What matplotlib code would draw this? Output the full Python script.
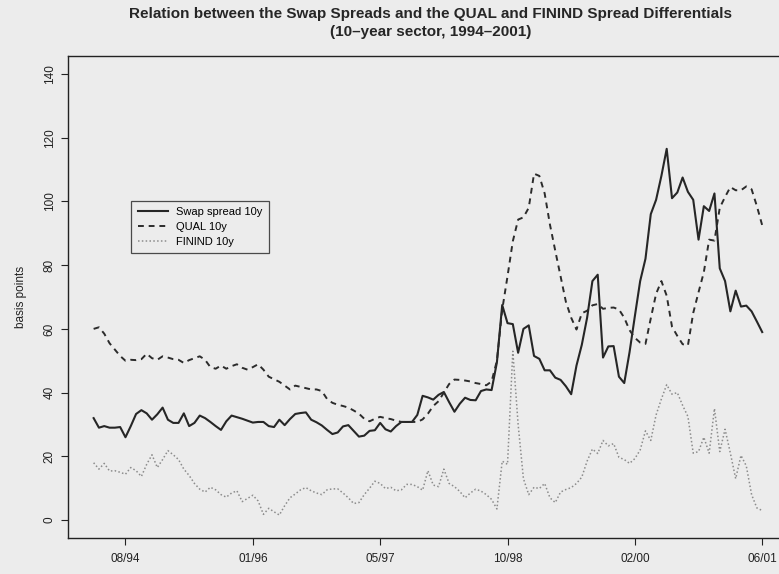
import numpy as np
import matplotlib
matplotlib.use("Agg")
import matplotlib.pyplot as plt

plt.rcParams['font.family'] = ['Liberation Sans', 'DejaVu Sans']

# observations are roughly three weeks apart, Apr 1994 .. Jun 2001
tick_labels = ["08/94", "01/96", "05/97", "10/98", "02/00", "06/01"]
tick_obs = [6, 30, 54, 78, 102, 126]

swap_10y = [
    32, 29, 29.5, 29, 29, 29.2, 26, 29.5, 33.3, 34.5,
    33.5, 31.5, 33.2, 35.3, 31.5, 30.5, 30.5, 33.5, 29.5, 30.5,
    32.8, 32, 30.8, 29.5, 28.3, 31, 32.8, 32.3, 31.8, 31.2,
    30.6, 30.8, 30.8, 29.5, 29.2, 31.5, 29.8, 31.7, 33.3, 33.6,
    33.8, 31.5, 30.7, 29.7, 28.3, 27, 27.5, 29.4, 29.8, 28,
    26.2, 26.5, 28, 28.2, 30.5, 28.5, 27.8, 29.5, 30.8, 30.8,
    30.8, 33, 39, 38.5, 37.8, 39.3, 40.2, 37, 34, 36.5,
    38.4, 37.7, 37.6, 40.5, 41, 40.8, 49.5, 67.5, 61.8, 61.5,
    52.5, 60, 61.1, 51.5, 50.6, 47, 47, 44.7, 44, 42,
    39.5, 48.5, 55, 63.5, 75, 77, 51, 54.5, 54.6, 45,
    43, 52.7, 64, 75, 82, 96, 100.5, 108, 116.5, 101,
    102.8, 107.5, 103, 100.5, 88, 98.5, 97, 102.5, 79, 75,
    65.5, 72, 67, 67.3, 65.5, 62.3, 59,
]

qual_10y = [
    60, 60.5, 58.5, 55.5, 53.5, 51.5, 50, 50.3, 50.2, 50.5,
    52.2, 50.8, 50.3, 51.4, 51, 50.5, 50.3, 49.3, 50.2, 50.8,
    51.4, 50.3, 48, 47.5, 48.5, 47.5, 48.3, 48.9, 47.8, 47.2,
    48, 48.9, 47.2, 45, 44.2, 43.4, 42.2, 41, 42.2, 41.8,
    41.4, 41, 41, 40.5, 38, 36.8, 36.2, 35.8, 35.3, 34.4,
    33.4, 31.8, 31, 31.8, 32.4, 32, 31.7, 31.2, 30.8, 30.8,
    30.8, 30.8, 31.6, 33.4, 35.8, 37.3, 40, 42.7, 44.1, 44,
    43.8, 43.5, 43, 42.7, 42.3, 43.5, 50, 66, 76.5, 87.5,
    94.3, 95, 98, 108.7, 108, 102.5, 92.7, 84.5, 76.5, 68.5,
    63.5, 59.8, 64.9, 65.7, 67.4, 67.8, 66.3, 66.6, 66.7, 66.1,
    63.5, 59.6, 57.2, 55.7, 55.3, 63.3, 71, 75, 70.4, 60.7,
    57.8, 55.2, 54.8, 65, 71.5, 77.8, 88, 87.7, 98, 101.4,
    104.5, 103.5, 103.5, 104.7, 103.8, 98.5, 92.5,
]

finind_10y = [
    18, 16, 17.8, 15.4, 15.5, 15, 14.4, 16.5, 15.5, 13.7,
    17.5, 20.5, 16.5, 19, 21.8, 20.5, 19, 16, 14, 11.5,
    9.7, 8.8, 10.3, 9.5, 8, 7.2, 8.5, 9.2, 5.8, 6.8,
    7.8, 6, 1.8, 3.7, 2.6, 1.6, 4.5, 7, 8.2, 9.5,
    10.2, 9.2, 8.5, 8, 9.5, 9.8, 9.8, 8.5, 7, 5.2,
    5.5, 8, 10, 12.2, 11.5, 9.9, 10.3, 9.2, 9.5, 11.2,
    11.2, 10.5, 9.4, 15.5, 11, 10.5, 16, 11.5, 10.5, 9,
    7, 8.5, 9.7, 9.1, 8, 6.5, 3.5, 18.5, 17.5, 53,
    30, 13, 8, 10.3, 9.9, 11.5, 7, 5.5, 8.8, 9.6,
    10.2, 11.5, 13.5, 18.5, 22.3, 20.9, 25, 23.3, 24, 19.7,
    19, 17.8, 19.3, 22, 28, 25, 33, 38, 42.5, 39.5,
    40, 36, 32.5, 21, 21.5, 26, 21, 35, 21.5, 28.5,
    21, 13, 20.3, 17, 8, 3.8, 3,
]

obs = np.arange(len(swap_10y))
bg = "#ececec"

fig = plt.figure(figsize=(7.79, 5.74), dpi=100, facecolor=bg)
ax = fig.add_axes([0.0875, 0.0628, 0.925, 0.8395], facecolor=bg)

ax.plot(obs, swap_10y, color="#262626", lw=1.5, label="Swap spread 10y")
ax.plot(obs, qual_10y, color="#2b2b2b", lw=1.4, linestyle=(0, (3, 2.5)),
        label="QUAL 10y")
ax.plot(obs, finind_10y, color="#8c8c8c", lw=1.1, linestyle=(0, (1, 1.5)),
        label="FININD 10y")

ax.set_xlim(-4.8, 131.0)
ax.set_ylim(-5.6, 145.6)
ax.set_xticks(tick_obs)
ax.set_xticklabels(tick_labels)
ax.set_yticks(range(0, 141, 20))
ax.set_yticklabels([str(v) for v in range(0, 141, 20)], rotation=90, va="center")
ax.tick_params(axis="x", length=5, width=0.8, pad=6, labelsize=8.5, colors="#222222")
ax.tick_params(axis="y", length=5, width=0.8, pad=4, labelsize=8.5, colors="#222222")
for side in ax.spines.values():
    side.set_linewidth(1.0)
    side.set_color("#222222")
ax.set_ylabel("basis points", fontsize=8.5, color="#222222", labelpad=12)

leg = ax.legend(loc="upper left", bbox_to_anchor=(0.087, 0.70), fontsize=8,
                frameon=True, fancybox=False, borderaxespad=0, handlelength=2.7,
                handletextpad=0.75, labelspacing=0.42, borderpad=0.6)
leg.get_frame().set_edgecolor("#222222")
leg.get_frame().set_facecolor(bg)
leg.get_frame().set_linewidth(0.9)

cx = 0.0875 + 0.925 / 2 + 0.003
fig.text(cx, 0.975, "Relation between the Swap Spreads and the QUAL and FININD Spread Differentials",
         ha="center", va="center", fontsize=11, fontweight="bold", color="#262626")
fig.text(cx, 0.944, "(10\u2013year sector, 1994\u20132001)",
         ha="center", va="center", fontsize=11, fontweight="bold", color="#262626")

fig.savefig("out.png", dpi=100, facecolor=bg)
